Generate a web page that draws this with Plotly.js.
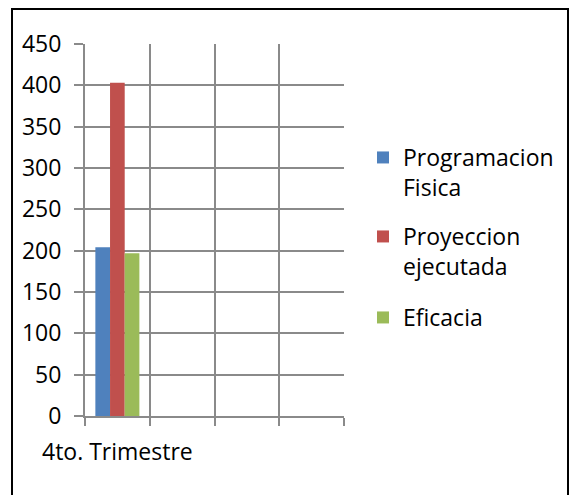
<!DOCTYPE html>
<html>
<head>
<meta charset="utf-8">
<script src="https://cdn.plot.ly/plotly-3.0.1.min.js"></script>
<style>
  html, body { margin: 0; padding: 0; background: #ffffff; overflow: hidden; }
  #chart { position: absolute; left: 0; top: 0; width: 569px; height: 495px; }
  #frame { position: absolute; left: 11px; top: 8px; width: 554px; height: 600px;
           border: 2px solid #000000; pointer-events: none; }
</style>
</head>
<body>
<div id="chart"></div>
<div id="frame"></div>
<script>
// Categories (only the first carries data; the other three are empty slots)
var categoryIds = ['c1', 'c2', 'c3', 'c4'];
var categoryLabels = ['4to. Trimestre', '', '', ''];

// Series
var seriesNames = ['Programacion<br>Fisica', 'Proyeccion<br>ejecutada', 'Eficacia'];
var programacionFisica = [204, null, null, null];
var proyeccionEjecutada = [403, null, null, null];
var eficacia = [197, null, null, null];

// Axis ticks
var yTicks = [0, 50, 100, 150, 200, 250, 300, 350, 400, 450];

var colors = ['#4F81BD', '#C0504D', '#9BBB59'];
var seriesValues = [programacionFisica, proyeccionEjecutada, eficacia];
var legendIds = ['legend', 'legend2', 'legend3'];

var font = { family: '"Open Sans", "Noto Sans", sans-serif', size: 23, color: '#000000' };

var traces = seriesValues.map(function (vals, i) {
  return {
    type: 'bar',
    x: categoryIds,
    y: vals,
    name: seriesNames[i],
    marker: { color: colors[i], line: { width: 0 } },
    legend: legendIds[i],
    hoverinfo: 'skip'
  };
});

var gridColor = '#8a8a8a';

function legendAt(yPx) {
  return {
    xref: 'container', yref: 'container',
    x: 363 / 569, y: 1 - yPx / 495,
    xanchor: 'left', yanchor: 'top',
    valign: 'top',
    bgcolor: 'rgba(0,0,0,0)',
    font: font,
    itemwidth: 30
  };
}

var layout = {
  width: 569, height: 495,
  margin: { l: 85, r: 225, t: 44, b: 79, pad: 0 },
  paper_bgcolor: '#ffffff',
  plot_bgcolor: '#ffffff',
  font: font,
  showlegend: true,
  barmode: 'group',
  bargap: 0.32,
  bargroupgap: 0,
  xaxis: {
    type: 'category',
    categoryorder: 'array',
    categoryarray: categoryIds,
    tickmode: 'array',
    tickvals: categoryIds,
    ticktext: categoryLabels,
    tickson: 'boundaries',
    tickangle: 0,
    range: [-0.5, categoryIds.length - 0.5],
    showgrid: true,
    gridcolor: gridColor,
    gridwidth: 2,
    showline: true,
    linecolor: gridColor,
    linewidth: 2,
    ticks: 'outside',
    ticklen: 8,
    tickwidth: 2,
    tickcolor: gridColor,
    tickfont: font,
    ticklabelstandoff: 14,
    zeroline: false,
    fixedrange: true
  },
  yaxis: {
    range: [0, 450],
    tickmode: 'array',
    tickvals: yTicks,
    ticktext: yTicks.map(String),
    showgrid: true,
    gridcolor: gridColor,
    gridwidth: 2,
    showline: true,
    linecolor: gridColor,
    linewidth: 2,
    ticks: 'outside',
    ticklen: 9,
    tickwidth: 2,
    tickcolor: gridColor,
    tickfont: font,
    ticklabelstandoff: 8,
    zeroline: false,
    fixedrange: true
  },
  legend: legendAt(136),
  legend2: legendAt(215),
  legend3: legendAt(296)
};

Plotly.newPlot('chart', traces, layout, { staticPlot: true, displayModeBar: false });
</script>
</body>
</html>
